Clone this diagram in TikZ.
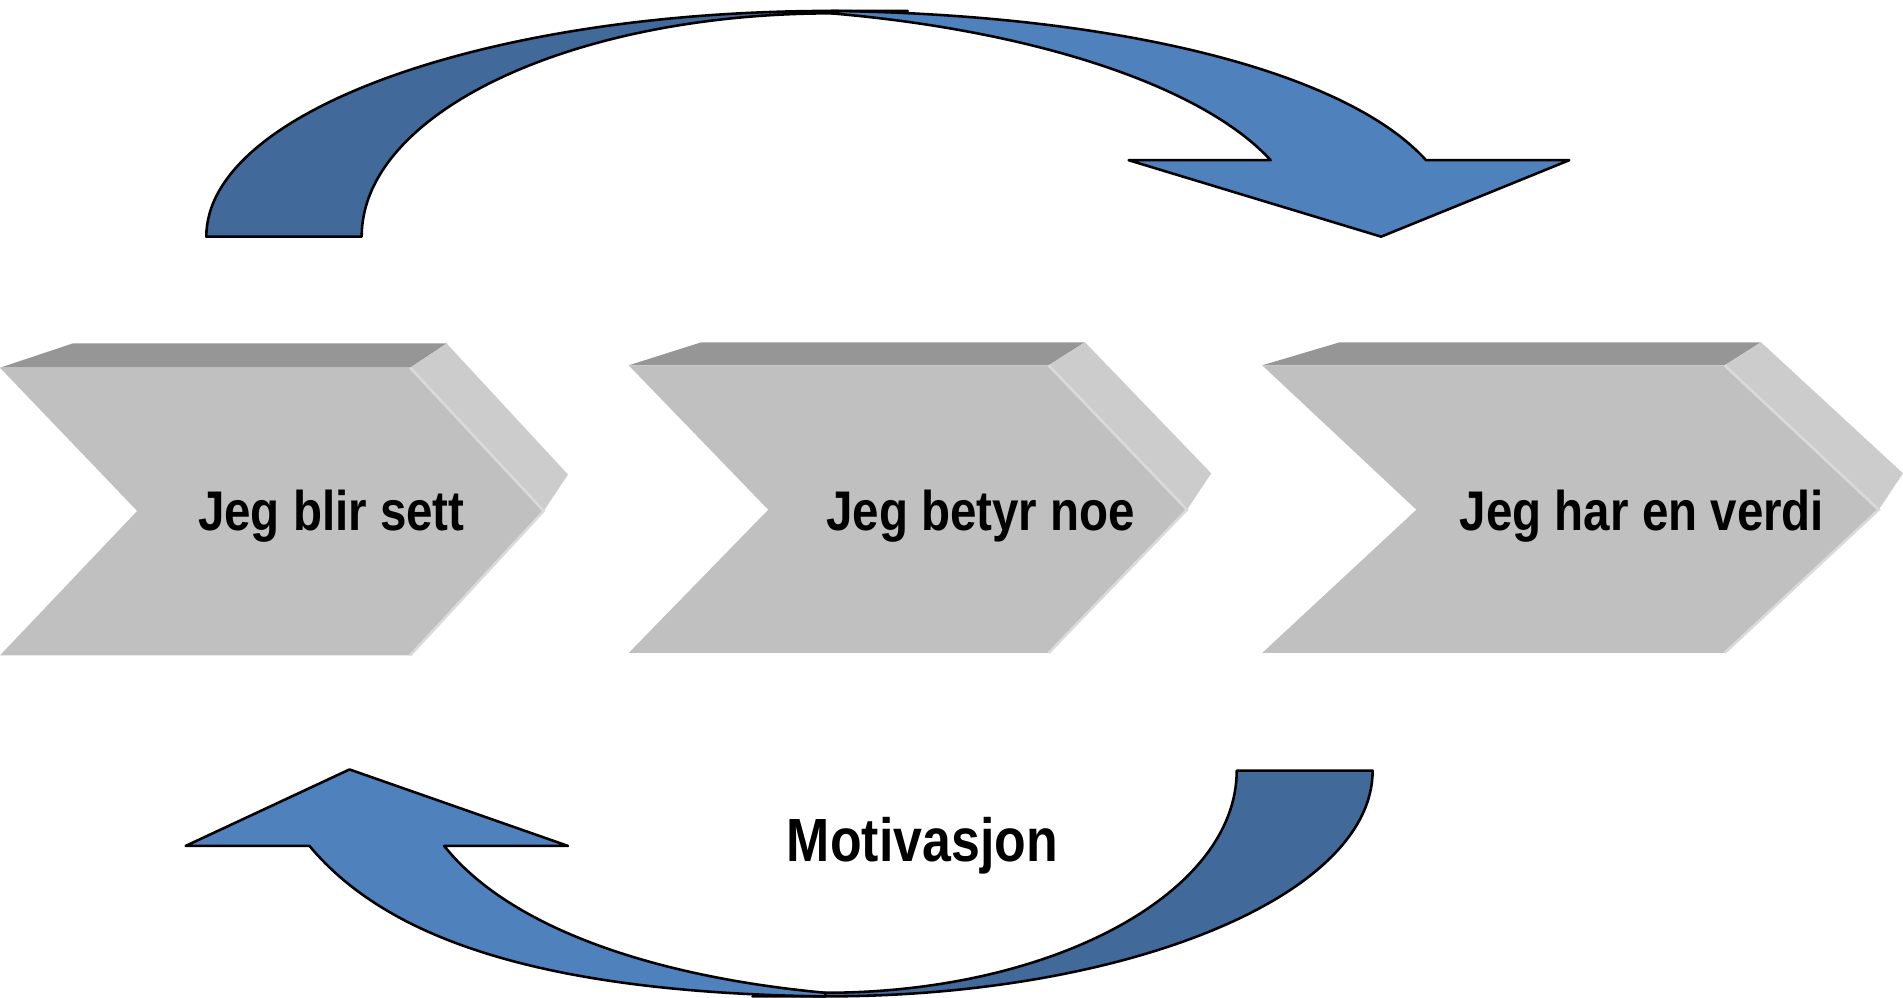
\documentclass[tikz,border=0pt]{standalone}
\usepackage{fontspec}
\setmainfont{Liberation Sans}
\usepackage{graphicx}

\definecolor{chevfront}{HTML}{C0C0C0}
\definecolor{chevtop}{HTML}{969696}
\definecolor{chevside}{HTML}{CCCCCC}
\definecolor{chevrim}{HTML}{DADADA}
\definecolor{arrowdark}{HTML}{416999}
\definecolor{arrowlight}{HTML}{4F81BD}

\tikzset{
  rim/.style={draw=chevrim, line width=0.6pt},
  bandlight/.style={fill=arrowlight, draw=black, line width=0.6pt, line join=round},
  banddark/.style={fill=arrowdark, draw=black, line width=0.6pt, line join=round},
  steplabel/.style={font=\bfseries\fontsize{13.1}{15}\selectfont, anchor=base, inner sep=0pt},
  motlabel/.style={font=\bfseries\fontsize{14.3}{17}\selectfont, anchor=base, inner sep=0pt},
}

% #1 left x, #2 notch x, #3 front right x, #4 tip x,
% #5 top y, #6 middle y, #7 bottom y, #8 depth dx, #9 depth dy
\newcommand\stepchevron[9]{%
  \fill[chevtop] (#1,#5) -- ({#1+#8},{#5-#9}) -- ({#3+30},{#5-#9}) -- (#3,#5) -- cycle;
  \fill[chevside] (#3,#5) -- ({#3+30},{#5-#9}) -- ({#4+20},{#6-30}) -- (#4,#6) -- cycle;
  \fill[chevfront] (#1,#5) -- (#3,#5) -- (#4,#6) -- (#3,#7) -- (#1,#7) -- (#2,#6) -- cycle;
  \draw[rim] (#3,#5) -- (#4,#6) -- (#3,#7);
}

\begin{document}
\begin{tikzpicture}[x=0.1mm, y=-0.1mm]
\useasboundingbox (0,0) rectangle (1568,822);

% three 3D chevrons
\stepchevron{0}{113}{338}{448}{303}{421}{540}{60}{20}
\stepchevron{518}{633}{864}{978}{301}{420}{538}{60}{19}
\stepchevron{1040}{1167}{1421}{1548}{301}{420}{538}{64}{19}

\node[steplabel] (s1) at (273,437) {\scalebox{0.85}[1]{Jeg blir sett}};
\node[steplabel] (s2) at (808,437) {\scalebox{0.85}[1]{Jeg betyr noe}};
\node[steplabel] (s3) at (1353,437) {\scalebox{0.85}[1]{Jeg har en verdi}};

% upper curved arrow: back (dark) half, then front (light) half with head
\draw[banddark] (170,195) .. controls (170,92) and (401,9) .. (685,9) -- (748,9)
  -- (685,11) .. controls (471,11) and (298,93) .. (298,195) -- cycle;
\draw[bandlight] (685,9) .. controls (925,12) and (1110,60) .. (1175,132)
  -- (1293,132) -- (1138,195) -- (930,132) -- (1047,132)
  .. controls (990,70) and (850,25) .. (685,11) -- cycle;

% lower curved arrow
\draw[banddark] (1131,635) .. controls (1131,738) and (929,821) .. (680,821) -- (620,821)
  -- (680,818) .. controls (867,818) and (1019,736) .. (1019,635) -- cycle;
\draw[bandlight] (680,821) .. controls (450,818) and (320,775) .. (255,697)
  -- (153,697) -- (288,634) -- (468,697) -- (366,697)
  .. controls (420,765) and (540,805) .. (680,818) -- cycle;

\node[motlabel] (mot) at (760,710) {\scalebox{0.85}[1]{Motivasjon}};
\end{tikzpicture}
\end{document}
